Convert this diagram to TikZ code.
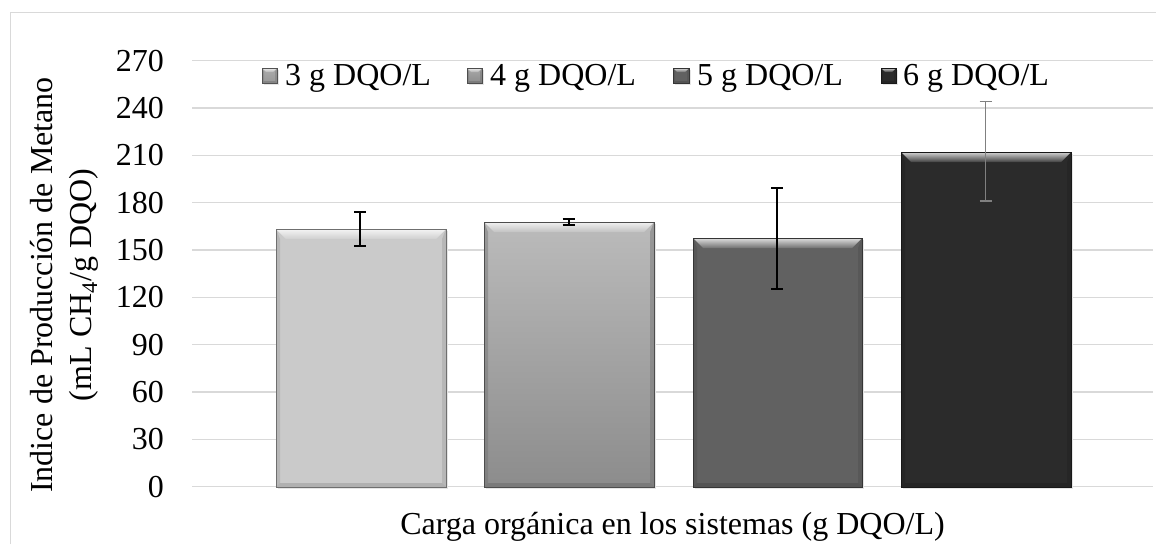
\documentclass[tikz,border=0pt]{standalone}
\usepackage{fontspec}
\setmainfont{Liberation Serif}
\definecolor{gridc}{HTML}{D9D9D9}
\definecolor{fa}{HTML}{CACACA}
\definecolor{fb}{HTML}{BBBBBB}
\definecolor{fbb}{HTML}{8C8C8C}
\definecolor{fc}{HTML}{616161}
\definecolor{fd}{HTML}{2B2B2B}
\definecolor{errg}{HTML}{808080}
\newcommand{\bevbar}[8]{% x0, ytop, x1, ybot, face top, face bottom, top bevel, side bevel
  \fill[black!10] (#1+2,#2+2) rectangle (#3+2,#4+2);
  \shade[top color=#5, bottom color=#6] (#1,#2) rectangle (#3,#4);
  \fill[#6!80!black, opacity=.45] (#1,#2) -- (#1+#8,#2+#7) -- (#1+#8,#4-#8) -- (#1,#4) -- cycle;
  \fill[#6!80!black, opacity=.45] (#3,#2) -- (#3-#8,#2+#7) -- (#3-#8,#4-#8) -- (#3,#4) -- cycle;
  \fill[#6!75!black, opacity=.5] (#1,#4) -- (#1+#8,#4-#8) -- (#3-#8,#4-#8) -- (#3,#4) -- cycle;
  \shade[top color=#5!20!white, bottom color=#5!90!white] (#1,#2) -- (#3,#2) -- (#3-#7,#2+#7) -- (#1+#7,#2+#7) -- cycle;
  \draw[#6!55!black, line width=0.8] (#1,#2) rectangle (#3,#4);
}
\tikzset{
  gridline/.style={draw=gridc, line width=1.3},
  ticklab/.style={anchor=east, inner sep=0pt},
  legtext/.style={anchor=base west, inner sep=0pt},
  errbar/.style={draw=black, line width=1.8},
  errbargray/.style={draw=errg, line width=1.5},
}
\begin{document}
\begin{tikzpicture}[x=1pt, y=-1pt, font=\fontsize{32}{38}\selectfont]
\useasboundingbox (0,0) rectangle (1156,544);
\fill[white] (0,0) rectangle (1156,544);
% chart area border
\draw[gridc, line width=1.3] (10.5,544) -- (10.5,12.5) -- (1156,12.5);
% gridlines and tick labels
\foreach \v/\yy in {0/486.7,30/439.3,60/392,90/344.7,120/297.3,150/250,180/202.7,210/155.3,240/108,270/60.7}{
  \draw[gridline] (192,\yy) -- (1153,\yy);
  \node[ticklab] (t\v) at (164,\yy) {\v};
}
% bars
\bevbar{276}{229}{446}{487}{fa}{fa}{10}{4}
\bevbar{484}{222}{654}{487}{fb}{fbb}{10}{4}
\bevbar{693}{238}{862}{487}{fc}{fc}{10}{4}
\bevbar{901}{152}{1071}{487}{fd}{fd}{10}{4}
% error bars
\coordinate (e1t) at (360,211.7); \coordinate (e1b) at (360,246);
\draw[errbar] (e1t) -- (e1b);
\draw[errbar] ([xshift=-6]e1t) -- ([xshift=6]e1t);
\draw[errbar] ([xshift=-6]e1b) -- ([xshift=6]e1b);
\coordinate (e2t) at (568.7,219); \coordinate (e2b) at (568.7,225);
\draw[errbar] (e2t) -- (e2b);
\draw[errbar] ([xshift=-6]e2t) -- ([xshift=6]e2t);
\draw[errbar] ([xshift=-6]e2b) -- ([xshift=6]e2b);
\coordinate (e3t) at (777,187.7); \coordinate (e3b) at (777,288.7);
\draw[errbar] (e3t) -- (e3b);
\draw[errbar] ([xshift=-6]e3t) -- ([xshift=6]e3t);
\draw[errbar] ([xshift=-6]e3b) -- ([xshift=6]e3b);
\coordinate (e4t) at (985.7,101.7); \coordinate (e4b) at (985.7,201);
\draw[errbargray] (e4t) -- (e4b);
\draw[errbargray] ([xshift=-6]e4t) -- ([xshift=6]e4t);
\draw[errbargray] ([xshift=-6]e4b) -- ([xshift=6]e4b);
% legend
\bevbar{262}{68}{277}{83}{fa!85!black}{fa!75!black}{4}{2}
\node[legtext] (l1) at (285,85) {3 g DQO/L};
\bevbar{467}{68}{482}{83}{fb!90!black}{fbb}{4}{2}
\node[legtext] (l2) at (490,85) {4 g DQO/L};
\bevbar{673}{68}{689}{83}{fc}{fc}{4}{2}
\node[legtext] (l3) at (697,85) {5 g DQO/L};
\bevbar{881}{68}{896}{83}{fd}{fd}{4}{2}
\node[legtext] (l4) at (903,85) {6 g DQO/L};
% axis titles
\node[anchor=base, inner sep=0pt, rotate=90] (yl1) at (52,285) {Indice de Producción de Metano};
\node[anchor=base, inner sep=0pt, rotate=90] (yl2) at (91,285) {(mL CH\textsubscript{4}/g DQO)};
\node[anchor=base, inner sep=0pt] (xl) at (672.5,534) {Carga orgánica en los sistemas (g DQO/L)};
\end{tikzpicture}
\end{document}
